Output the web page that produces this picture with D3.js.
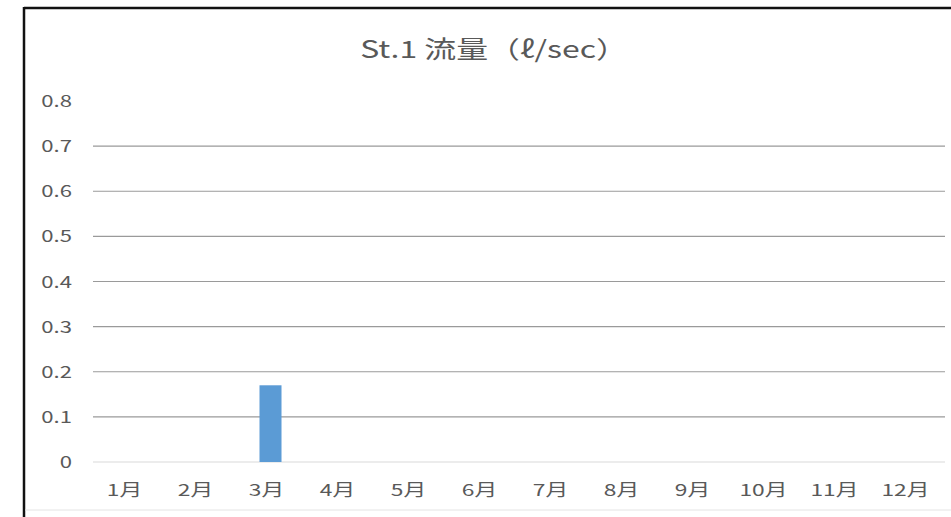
<!DOCTYPE html>
<html>
<head>
<meta charset="utf-8">
<script src="https://cdn.jsdelivr.net/npm/d3@7"></script>
<style>
  html, body { margin: 0; padding: 0; background: #fff; }
  svg { display: block; }
</style>
</head>
<body>
<svg id="chart"></svg>
<script>
// data
var months = ["1月", "2月", "3月", "4月", "5月", "6月", "7月", "8月", "9月", "10月", "11月", "12月"];
var flow = [0, 0, 0.17, null, null, null, null, null, null, null, null, null];
var yTicks = [0, 0.1, 0.2, 0.3, 0.4, 0.5, 0.6, 0.7, 0.8];
var title = "St.1 流量（ℓ/sec）";

var width = 951, height = 517;
var margin = { top: 101, right: 6, bottom: 55, left: 93 };
var font = "'Noto Sans CJK JP', 'Noto Sans', sans-serif";
// the source picture is stretched sideways, so text is widened to match
var stretch = 1.38;

var svg = d3.select("#chart").attr("width", width).attr("height", height);

// frame
svg.append("line").attr("x1", 24).attr("x2", width).attr("y1", 8).attr("y2", 8)
  .attr("stroke", "#111").attr("stroke-width", 2.5);
svg.append("line").attr("x1", 24).attr("x2", 24).attr("y1", 7).attr("y2", height)
  .attr("stroke", "#111").attr("stroke-width", 2.5);
svg.append("line").attr("x1", 25).attr("x2", width).attr("y1", 510).attr("y2", 510)
  .attr("stroke", "#e4e4e4").attr("stroke-width", 1);

var x = d3.scaleBand()
  .domain(months)
  .range([margin.left, width - margin.right])
  .padding(0);

var y = d3.scaleLinear()
  .domain([0, 0.8])
  .range([height - margin.bottom, margin.top]);

// gridlines (none at the top value)
svg.append("g")
  .selectAll("line")
  .data(yTicks.filter(function (d) { return d > 0 && d < 0.8; }))
  .enter().append("line")
  .attr("x1", margin.left).attr("x2", width - margin.right)
  .attr("y1", function (d) { return y(d); })
  .attr("y2", function (d) { return y(d); })
  .attr("stroke", "#9a9a9a").attr("stroke-width", 1.2);

// zero line
svg.append("line")
  .attr("x1", margin.left).attr("x2", width - margin.right)
  .attr("y1", y(0)).attr("y2", y(0))
  .attr("stroke", "#d9d9d9").attr("stroke-width", 1.2);

// bars
var barW = x.bandwidth() * 0.31;
svg.append("g")
  .attr("fill", "#5b9bd5")
  .selectAll("rect")
  .data(months.map(function (m, i) { return { m: m, v: flow[i] }; })
    .filter(function (d) { return d.v; }))
  .enter().append("rect")
  .attr("x", function (d) { return x(d.m) + (x.bandwidth() - barW) / 2; })
  .attr("y", function (d) { return y(d.v); })
  .attr("width", barW)
  .attr("height", function (d) { return y(0) - y(d.v); });

// y axis
var yAxis = svg.append("g")
  .attr("transform", "translate(72,0)")
  .call(d3.axisLeft(y).tickValues(yTicks).tickSize(0).tickPadding(0)
    .tickFormat(function (d) { return d === 0 ? "0" : d3.format(".1f")(d); }));
yAxis.select(".domain").remove();
yAxis.selectAll("text")
  .attr("x", 0)
  .attr("transform", "scale(" + stretch + ",1)")
  .attr("font-family", font).attr("font-size", 16).attr("fill", "#595959")
  .attr("dy", "0.35em");

// x axis
var xAxis = svg.append("g")
  .attr("transform", "translate(-4," + (y(0) + 28) + ")")
  .call(d3.axisBottom(x).tickSize(0).tickPadding(0));
xAxis.select(".domain").remove();
xAxis.selectAll("text")
  .attr("y", 0)
  .attr("transform", "scale(" + stretch + ",1)")
  .attr("font-family", font).attr("font-size", 16.5).attr("fill", "#595959")
  .attr("dy", "0.35em");

// title
svg.append("g")
  .attr("transform", "translate(494,47) scale(1.33,1)")
  .append("text")
  .attr("text-anchor", "middle")
  .attr("dominant-baseline", "central")
  .attr("font-family", font).attr("font-size", 24).attr("fill", "#595959")
  .text(title);
</script>
</body>
</html>
